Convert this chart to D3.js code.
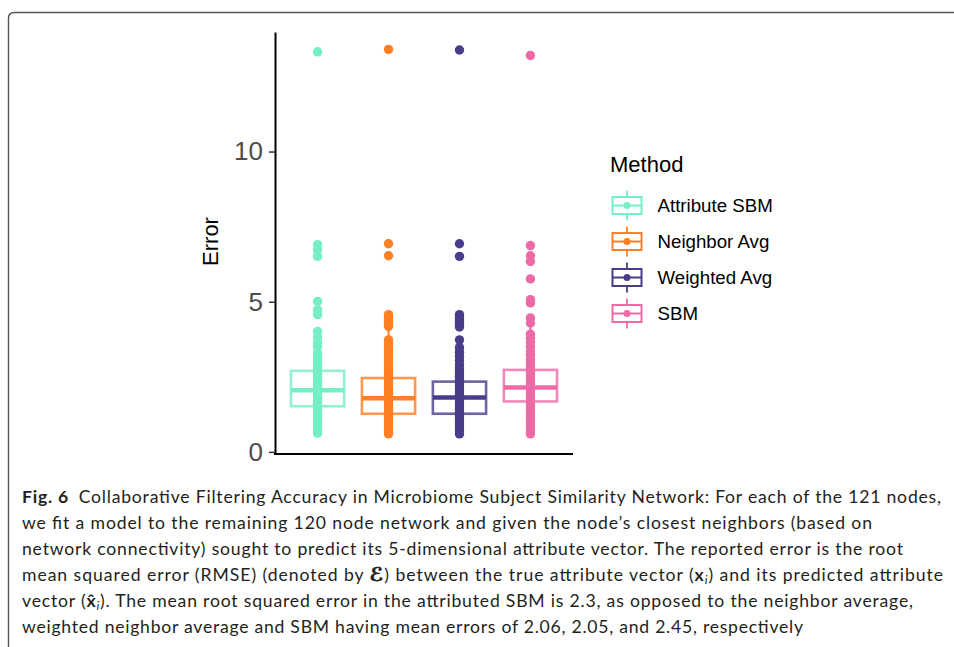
<!DOCTYPE html>
<html>
<head>
<meta charset="utf-8">
<script src="https://cdn.jsdelivr.net/npm/d3@7"></script>
<style>
  body { margin: 0; background: #fff; }
  svg { display: block; }
  .chart text { font-family: "Liberation Sans", Arial, Helvetica, sans-serif; }
  .caption text { font-family: Lato, "Open Sans", sans-serif; fill: #231f20; }
</style>
</head>
<body>
<svg id="fig" width="954" height="647"></svg>
<script>
// ---- data ----
var methods = ["Attribute SBM", "Neighbor Avg", "Weighted Avg", "SBM"];
var colors = ["#76EEC6", "#FF7F24", "#483D8B", "#EE6AA7"];

// box statistics
var q1 = [1.52, 1.27, 1.27, 1.68];
var medians = [2.05, 1.79, 1.81, 2.14];
var q3 = [2.70, 2.46, 2.34, 2.73];
var whiskerLow = [0.62, 0.60, 0.60, 0.60];
var whiskerHigh = [4.01, 4.20, 3.73, 4.29];

// per-node errors
var errAttrSBM = [13.32, 6.90, 6.73, 6.51, 5.01, 4.73, 4.57, 4.01, 3.83, 3.65, 3.51,
  3.30, 3.22, 3.12, 3.02, 2.92, 2.82, 2.72, 2.62, 2.52, 2.42, 2.32, 2.22, 2.12, 2.02,
  1.92, 1.82, 1.72, 1.62, 1.52, 1.42, 1.32, 1.22, 1.12, 1.02, 0.92, 0.82, 0.72, 0.62];
var errNeighbor = [13.40, 6.93, 6.53, 4.57, 4.50, 4.44, 4.37, 4.30, 4.24, 4.18,
  3.73, 3.60, 3.48, 3.36, 3.24, 3.12, 3.00, 2.88, 2.76, 2.66, 2.56, 2.46, 2.36, 2.26,
  2.16, 2.06, 1.96, 1.86, 1.76, 1.66, 1.56, 1.46, 1.36, 1.26, 1.16, 1.06, 0.96, 0.86,
  0.76, 0.66, 0.60];
var errWeighted = [13.38, 6.93, 6.51, 4.57, 4.50, 4.43, 4.36, 4.29, 4.22, 4.16,
  3.73, 3.47, 3.32, 3.18, 3.04, 2.90, 2.80, 2.70, 2.60, 2.50, 2.40, 2.30, 2.20, 2.10,
  2.00, 1.90, 1.80, 1.70, 1.60, 1.50, 1.40, 1.30, 1.20, 1.10, 1.00, 0.90, 0.80, 0.70,
  0.60];
var errSBM = [13.20, 6.87, 6.53, 6.34, 5.76, 5.07, 4.96, 4.46, 4.29,
  3.92, 3.78, 3.64, 3.50, 3.36, 3.22, 3.08, 2.96, 2.86, 2.76, 2.66, 2.56, 2.46, 2.36,
  2.26, 2.16, 2.06, 1.96, 1.86, 1.76, 1.66, 1.56, 1.46, 1.36, 1.26, 1.16, 1.06, 0.96,
  0.86, 0.76, 0.66, 0.60];
var errors = [errAttrSBM, errNeighbor, errWeighted, errSBM];

var yTicks = [0, 5, 10];
var yLabel = "Error";
var legendTitle = "Method";

// caption, one array of [text, kind] pieces per printed line
var captionLines = [
  [["Fig. 6", "bold"], ["\u2002Collaborative Filtering Accuracy in Microbiome Subject Similarity Network: For each of the 121 nodes,", ""]],
  [["we fit a model to the remaining 120 node network and given the node\u2019s closest neighbors (based on", ""]],
  [["network connectivity) sought to predict its 5-dimensional attribute vector. The reported error is the root", ""]],
  [["mean squared error (RMSE) (denoted by ", ""], ["\u2130", "math"], [") between the true attribute vector (", ""], ["x", "bold"], ["i", "sub"], [") and its predicted attribute", ""]],
  [["vector (", ""], ["x\u0302", "bold"], ["i", "sub"], ["). The mean root squared error in the attributed SBM is 2.3, as opposed to the neighbor average,", ""]],
  [["weighted neighbor average and SBM having mean errors of 2.06, 2.05, and 2.45, respectively", ""]]
];
// right end of each printed caption line (layout)
var captionEnds = [941, 872, 903, 943, 913, 803];

// ---- drawing ----
var svg = d3.select("#fig");

// figure frame
svg.append("path")
  .attr("d", "M8.5,647 V18 Q8.5,12.5 14.5,12.5 H954")
  .attr("fill", "none")
  .attr("stroke", "#555")
  .attr("stroke-width", 1.4);

var chart = svg.append("g").attr("class", "chart");

var yScale = d3.scaleLinear().domain([-0.07, 13.98]).range([454, 32]);
var xScale = d3.scalePoint().domain(methods).range([275, 573]).padding(0.6);
var boxW = xScale.step() * 0.75;

// boxes
methods.forEach(function (m, i) {
  var cx = xScale(m);
  var g = chart.append("g");
  g.append("line")
    .attr("x1", cx).attr("x2", cx)
    .attr("y1", yScale(whiskerLow[i])).attr("y2", yScale(whiskerHigh[i]))
    .attr("stroke", colors[i]).attr("stroke-width", 2);
  g.append("rect")
    .attr("x", cx - boxW / 2).attr("width", boxW)
    .attr("y", yScale(q3[i])).attr("height", yScale(q1[i]) - yScale(q3[i]))
    .attr("fill", "#fff")
    .attr("stroke", colors[i]).attr("stroke-opacity", 0.8).attr("stroke-width", 2.6);
  g.append("line")
    .attr("x1", cx - boxW / 2).attr("x2", cx + boxW / 2)
    .attr("y1", yScale(medians[i])).attr("y2", yScale(medians[i]))
    .attr("stroke", colors[i]).attr("stroke-width", 4.5);
});

// points
methods.forEach(function (m, i) {
  chart.append("g").selectAll("circle")
    .data(errors[i]).enter()
    .append("circle")
    .attr("cx", xScale(m))
    .attr("cy", function (d) { return yScale(d); })
    .attr("r", 4.7)
    .attr("fill", colors[i]);
});

// axes
var yAxis = chart.append("g")
  .attr("transform", "translate(275,0)")
  .call(d3.axisLeft(yScale).tickValues(yTicks).tickSize(6).tickSizeOuter(0).tickPadding(6));
yAxis.select(".domain").attr("stroke", "#000").attr("stroke-width", 2);
yAxis.selectAll(".tick line").attr("stroke", "#333").attr("stroke-width", 1.5);
yAxis.selectAll(".tick text")
  .attr("fill", "#4d4d4d")
  .style("font-size", "26px");

var xAxis = chart.append("g")
  .attr("transform", "translate(0,454)")
  .call(d3.axisBottom(xScale).tickValues([]).tickSizeOuter(0));
xAxis.select(".domain").attr("stroke", "#000").attr("stroke-width", 2)
  .attr("d", "M274," + 0 + "H573");

chart.append("text")
  .attr("transform", "translate(218,241.5) rotate(-90)")
  .attr("text-anchor", "middle")
  .style("font-size", "22px")
  .attr("fill", "#000")
  .text(yLabel);

// legend
var legend = chart.append("g").attr("transform", "translate(610,0)");
legend.append("text")
  .attr("x", 0).attr("y", 172)
  .style("font-size", "22px")
  .attr("fill", "#000")
  .text(legendTitle);

var rowY = d3.scalePoint().domain(methods).range([205.5, 313.5]);
methods.forEach(function (m, i) {
  var cy = rowY(m), kx = 17;
  var k = legend.append("g");
  k.append("line").attr("x1", kx).attr("x2", kx).attr("y1", cy - 15).attr("y2", cy + 15)
    .attr("stroke", colors[i]).attr("stroke-width", 1.8);
  k.append("rect").attr("x", kx - 14.5).attr("width", 29).attr("y", cy - 8.5).attr("height", 17)
    .attr("fill", "#fff").attr("stroke", colors[i]).attr("stroke-width", 2);
  k.append("line").attr("x1", kx - 14.5).attr("x2", kx + 14.5).attr("y1", cy).attr("y2", cy)
    .attr("stroke", colors[i]).attr("stroke-width", 2);
  k.append("circle").attr("cx", kx).attr("cy", cy).attr("r", 3.5).attr("fill", colors[i]);
  legend.append("text")
    .attr("x", 47.5).attr("y", cy).attr("dy", "0.36em")
    .style("font-size", "18.7px")
    .attr("fill", "#000")
    .text(m);
});

// caption
var cap = svg.append("g").attr("class", "caption");
var capY = d3.scaleLinear().domain([0, 5]).range([503, 633]);
captionLines.forEach(function (pieces, li) {
  var t = cap.append("text")
    .attr("x", 22).attr("y", capY(li))
    .style("font-size", "17.6px");
  pieces.forEach(function (p) {
    var s = t.append("tspan").text(p[0]);
    if (p[1] === "bold") s.attr("font-weight", "bold");
    if (p[1] === "math") s.attr("font-weight", "bold")
      .attr("font-family", "DejaVu Sans, sans-serif")
      .style("font-size", "19px")
      .attr("stroke", "#231f20").attr("stroke-width", 0.7);
    if (p[1] === "sub") {
      s.attr("font-style", "italic").style("font-size", "12px").attr("dy", "3");
    }
  });
  // re-align baseline after subscript
  t.selectAll("tspan").each(function (d, j, nodes) {
    if (j > 0 && d3.select(nodes[j - 1]).attr("dy") === "3") d3.select(this).attr("dy", "-3");
  });
  t.attr("textLength", captionEnds[li] - 22).attr("lengthAdjust", "spacing");
});
</script>
</body>
</html>
